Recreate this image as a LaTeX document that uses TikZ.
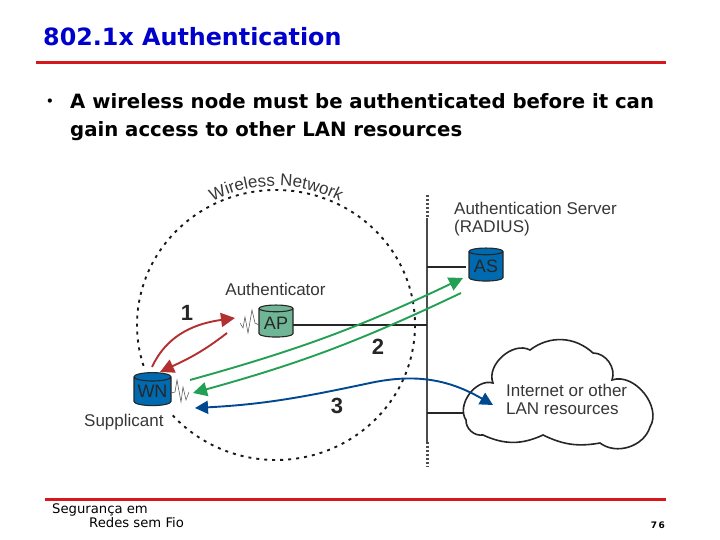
\documentclass[tikz,border=0pt]{standalone}
\usepackage{fontspec}
\setmainfont{DejaVu Sans}
\newfontfamily\labelfont{Liberation Sans}
\usetikzlibrary{arrows.meta,shapes.geometric,decorations.text}
\definecolor{titleblue}{RGB}{0,0,204}
\definecolor{rulered}{RGB}{214,24,28}
\definecolor{labelgray}{RGB}{55,55,55}
\definecolor{wnblue}{RGB}{0,106,176}
\definecolor{apgreen}{RGB}{112,182,150}
\definecolor{redarrow}{RGB}{178,48,48}
\definecolor{greenarrow}{RGB}{36,160,84}
\definecolor{bluearrow}{RGB}{0,72,144}
\tikzset{
  station/.style={cylinder, shape border rotate=90, aspect=0.28, draw=black!85, line width=1.1pt, inner sep=0pt, outer sep=0pt, text=labelgray!70!black, font=\labelfont\fontsize{18}{18}\selectfont},
  tag/.style={text=labelgray, font=\labelfont\fontsize{17}{18}\selectfont, inner sep=0pt, align=left},
  stepnum/.style={text=black!85, font=\labelfont\bfseries\fontsize{22}{22}\selectfont, inner sep=0pt},
  link/.style={line width=1.3pt, draw=black!85},
  antenna/.style={line width=0.5pt, draw=black!70},
  flow/.style={line width=1.9pt, {Triangle[length=14pt,width=14pt]}-},
}
\begin{document}
\begin{tikzpicture}[x=1pt,y=1pt]
    \useasboundingbox (0,0) rectangle (720,540);
    \fill[white] (0,0) rectangle (720,540);

    % Slide text
    \node[anchor=base west, inner sep=0pt, text=titleblue, font=\bfseries\fontsize{23.8}{26}\selectfont] (title) at (43,494) {802.1x Authentication};
    \draw[rulered, line width=3.5pt] (36,477.5) -- (666,477.5);
    \node[inner sep=0pt, font=\bfseries\fontsize{12}{12}\selectfont] (bullet) at (50,438) {•};
    \node[anchor=base west, inner sep=0pt, font=\bfseries\fontsize{19.7}{20}\selectfont] (line1) at (70,431) {A wireless node must be authenticated before it can};
    \node[anchor=base west, inner sep=0pt, font=\bfseries\fontsize{19.7}{20}\selectfont] (line2) at (70,403) {gain access to other LAN resources};
    \draw[rulered, line width=3.5pt] (45,40.5) -- (666,40.5);
    \node[anchor=base west, inner sep=0pt, font=\fontsize{13.2}{14}\selectfont] (foot1) at (52,26) {Segurança em};
    \node[anchor=base west, inner sep=0pt, font=\fontsize{13.2}{14}\selectfont] (foot2) at (89,12) {Redes sem Fio};
    \node[anchor=base east, inner sep=0pt, font=\bfseries\fontsize{9}{10}\selectfont] (pagenum) at (665,11) {7\,6};

    % Wireless network boundary
    \coordinate (centre) at (276,215);
    \draw[black!90, line width=1.9pt, dash pattern=on 3pt off 5pt] ([shift={(222:139 and 135)}]centre) arc[start angle=222, end angle=559, x radius=139, y radius=135];
    \path[decorate, decoration={text along path, text align=center, text={|\labelfont\fontsize{17}{17}\selectfont\color{labelgray}|Wireless Network}}] ([shift={(125:139)}]centre) arc[start angle=125, end angle=55, radius=139];

    % Wired side
    \coordinate (bustop) at (427,345);
    \coordinate (busup) at (427,322);
    \coordinate (busdown) at (427,98);
    \coordinate (busend) at (427,73);
    \draw[black!70, line width=2.6pt] (busup) -- (busdown);
    \draw[black!70, line width=3pt, dash pattern=on 2.5pt off 1.5pt] (bustop) -- (busup);
    \draw[black!70, line width=3pt, dash pattern=on 2.5pt off 1.5pt] (busdown) -- (busend);

    \node[station, fill=wnblue, minimum width=37pt, minimum height=33pt] (WN) at (152.5,148.5) {WN};
    \node[station, fill=apgreen, minimum width=34pt, minimum height=32pt] (AP) at (276,217) {AP};
    \node[station, fill=wnblue, minimum width=34pt, minimum height=33pt] (AS) at (486,273.5) {AS};

    \coordinate (busAP) at (427,215);
    \coordinate (busAS) at (427,273);
    \coordinate (busnet) at (427,127);
    \coordinate (ASleft) at (466,273);
    \coordinate (cloudleft) at (466,127);
    \draw[link] (AP.east |- busAP) -- (busAP);
    \draw[link] (busAS) -- (ASleft);
    \draw[link] (busnet) -- (cloudleft);

    % Cloud
    \draw[black!85, line width=1.6pt, fill=white] (466,120) to[bend left=70] (493,157) to[bend left=70] (530,190) to[bend left=40] (593,187) to[bend left=55] (612,160) to[bend left=70] (650,113) to[bend left=55] (600,97) to[bend left=18] (543,105) to[bend left=25] (483,105) to[bend left=50] cycle;
    \node[tag, anchor=west] (net) at (506,141) {Internet or other\\LAN resources};

    % Radio links
    \draw[antenna] plot coordinates {(259,215) (255,217) (252,230) (248,207) (245,223) (243,212) (240,217)};
    \draw[antenna] plot coordinates {(171,147) (175,148) (177,160) (181,138) (183,153) (186,140) (189,148)};

    % Labels
    \node[tag] (auth) at (275.5,251) {Authenticator};
    \node[tag, anchor=north west] (server) at (454,338) {Authentication Server\\(RADIUS)};
    \node[tag, anchor=west] (supp) at (84,117.5) {Supplicant};
    \node[stepnum] (one) at (187,227) {1};
    \node[stepnum] (two) at (378,193) {2};
    \node[stepnum] (three) at (337,134) {3};

    % Exchange arrows
    \coordinate (redA) at (152,173);
    \coordinate (redB) at (235,222);
    \coordinate (redC) at (227,207);
    \coordinate (redD) at (160,168);
    \draw[flow, redarrow] (redB) to[out=188, in=65] (redA);
    \draw[flow, redarrow] (redD) to[out=25, in=218] (redC);

    \coordinate (greenA) at (190,160);
    \coordinate (greenB) at (463,262);
    \coordinate (greenC) at (461,247);
    \coordinate (greenD) at (193,147);
    \draw[flow, greenarrow] (greenB) to[bend left=5] (greenA);
    \draw[flow, greenarrow] (greenD) to[bend right=5] (greenC);

    \coordinate (blueA) at (195,132);
    \coordinate (blueB) at (370,157);
    \coordinate (blueC) at (493,135);
    \draw[flow, bluearrow, {Triangle[length=13pt,width=13pt]}-{Triangle[length=13pt,width=13pt]}] (blueA) to[out=3, in=192] (blueB) to[out=12, in=150] (blueC);
\end{tikzpicture}
\end{document}
